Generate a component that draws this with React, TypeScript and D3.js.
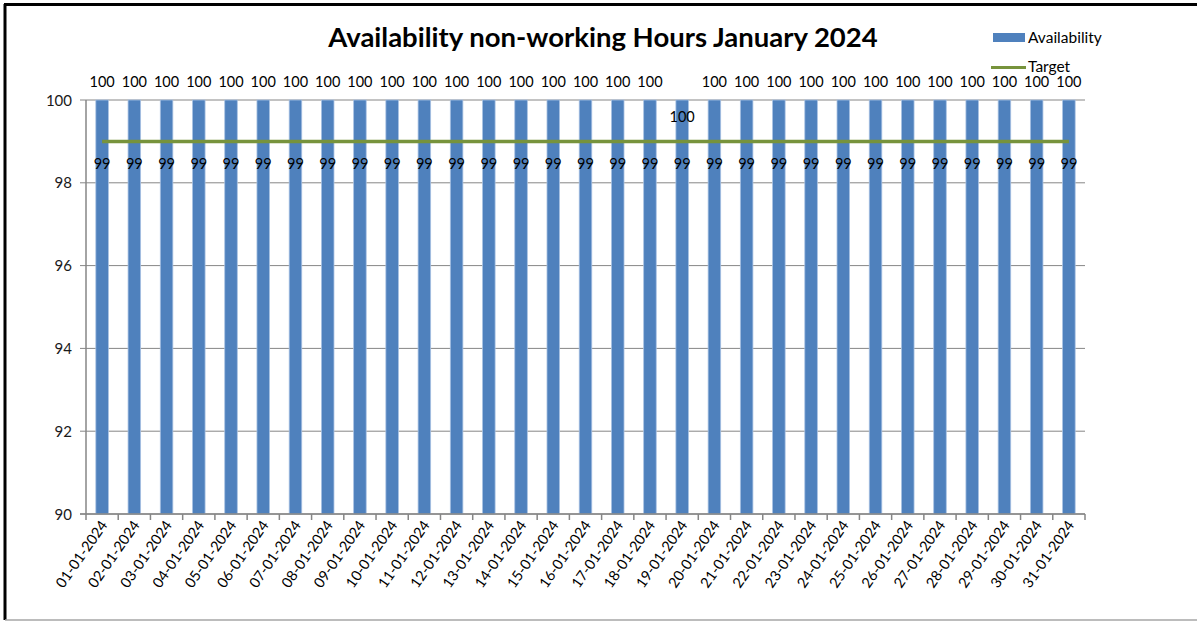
import React from 'react';
import * as d3 from 'd3';

// 01-01-2024 ... 31-01-2024
const DAYS = [
  '01-01-2024', '02-01-2024', '03-01-2024', '04-01-2024', '05-01-2024', '06-01-2024',
  '07-01-2024', '08-01-2024', '09-01-2024', '10-01-2024', '11-01-2024', '12-01-2024',
  '13-01-2024', '14-01-2024', '15-01-2024', '16-01-2024', '17-01-2024', '18-01-2024',
  '19-01-2024', '20-01-2024', '21-01-2024', '22-01-2024', '23-01-2024', '24-01-2024',
  '25-01-2024', '26-01-2024', '27-01-2024', '28-01-2024', '29-01-2024', '30-01-2024',
  '31-01-2024'
];
const AVAILABILITY = [
  100, 100, 100, 100, 100, 100, 100, 100, 100, 100, 100, 100, 100, 100, 100, 100,
  100, 100, 100, 100, 100, 100, 100, 100, 100, 100, 100, 100, 100, 100, 100
];
const TARGET = [
  99, 99, 99, 99, 99, 99, 99, 99, 99, 99, 99, 99, 99, 99, 99, 99,
  99, 99, 99, 99, 99, 99, 99, 99, 99, 99, 99, 99, 99, 99, 99
];
const Y_TICKS = [90, 92, 94, 96, 98, 100];

const BAR = '#4f81bd';
const BAR_EDGE = '#a9c2e3';
const LINE = '#77933c';
const AXIS = '#868686';
const FONT = 'Lato, "Open Sans", sans-serif';

const W = 1197;
const H = 621;
const plot = { left: 86, right: 1085, top: 100, bottom: 514 };

export default function App() {
  const x = d3.scaleBand<string>().domain(DAYS).range([plot.left, plot.right]).paddingInner(0.61).paddingOuter(0.305);
  const y = d3.scaleLinear().domain([90, 100]).range([plot.bottom, plot.top]);
  const band = d3.scaleBand<string>().domain(DAYS).range([plot.left, plot.right]);
  const cx = (d: string) => (band(d) ?? 0) + band.bandwidth() / 2;

  const line = d3.line<number>()
    .x((_, i) => cx(DAYS[i]))
    .y(v => y(v));

  return (
    <svg width={W} height={H} style={{ position: 'absolute', left: 0, top: 0, background: '#fff' }} fontFamily={FONT}>
      {/* frame */}
      <line x1={5} y1={4} x2={5} y2={620} stroke="#000" strokeWidth={3} />
      <line x1={4} y1={4.5} x2={W} y2={4.5} stroke="#000" strokeWidth={3} />
      <line x1={5} y1={620} x2={W} y2={620} stroke="#a6a6a6" strokeWidth={1.5} />

      <text x={603} y={47} textAnchor="middle" fontSize={27.5} fontWeight="bold" fill="#000">
        Availability non-working Hours January 2024
      </text>

      {/* legend */}
      <rect x={993} y={33} width={32} height={9} fill={BAR} />
      <text x={1028} y={43} fontSize={15.5} fill="#000">Availability</text>
      <line x1={991} y1={67.5} x2={1026} y2={67.5} stroke={LINE} strokeWidth={3} />
      <text x={1028} y={72} fontSize={15.5} fill="#000">Target</text>

      {/* gridlines + y axis */}
      {Y_TICKS.map(t => (
        <g key={t}>
          <line x1={plot.left - 6} x2={plot.right} y1={y(t)} y2={y(t)} stroke={AXIS} strokeWidth={1} />
          <text x={72} y={y(t) + 5.5} textAnchor="end" fontSize={15} fill="#1a1a1a">{t}</text>
        </g>
      ))}

      {/* bars */}
      {DAYS.map((d, i) => (
        <rect key={d} x={x(d)} y={y(AVAILABILITY[i])} width={x.bandwidth()} height={plot.bottom - y(AVAILABILITY[i])}
          fill={BAR} stroke={BAR_EDGE} strokeWidth={0.8} />
      ))}

      <line x1={plot.left} x2={plot.left} y1={plot.top} y2={plot.bottom} stroke={AXIS} strokeWidth={1.5} />
      <line x1={plot.left - 6} x2={plot.right} y1={plot.bottom} y2={plot.bottom} stroke={AXIS} strokeWidth={1.5} />
      {DAYS.map(d => (
        <line key={d} x1={band(d)} x2={band(d)} y1={plot.bottom} y2={plot.bottom + 6} stroke={AXIS} strokeWidth={1.5} />
      ))}
      <line x1={plot.right} x2={plot.right} y1={plot.bottom} y2={plot.bottom + 6} stroke={AXIS} strokeWidth={1.5} />

      {/* target line */}
      <path d={line(TARGET) ?? ''} fill="none" stroke={LINE} strokeWidth={3.5} />

      {/* bar labels */}
      {DAYS.map((d, i) => (
        <text key={d} x={cx(d)} y={d === '19-01-2024' ? 122 : 87} textAnchor="middle" fontSize={14.5} fill="#000">
          {AVAILABILITY[i]}
        </text>
      ))}
      {/* target labels */}
      {DAYS.map((d, i) => (
        <text key={d} x={cx(d)} y={169} textAnchor="middle" fontSize={14.5} fill="#000">{TARGET[i]}</text>
      ))}

      {/* x labels */}
      {DAYS.map(d => (
        <text key={d} transform={`translate(${cx(d) + 6},${plot.bottom + 11}) rotate(-55)`} textAnchor="end" fontSize={14.5} fill="#000">
          {d}
        </text>
      ))}
    </svg>
  );
}
